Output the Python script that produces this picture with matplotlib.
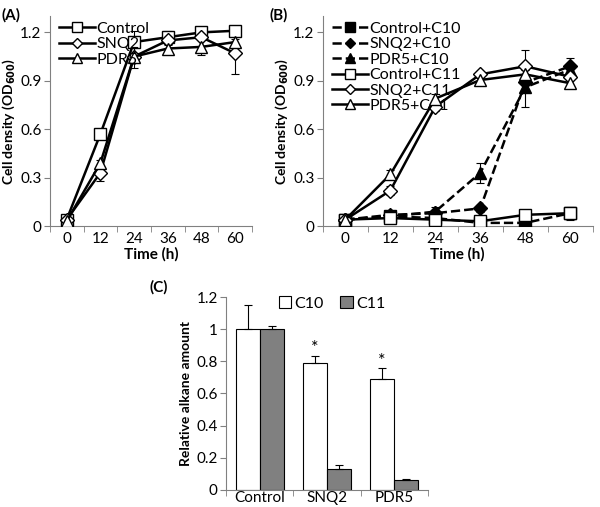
import numpy as np
import matplotlib
matplotlib.use("Agg")
from matplotlib import pyplot as plt

plt.rcParams['font.family'] = ['Lato', 'DejaVu Sans']
plt.rcParams['font.size'] = 11

# time points (h)
hours = ['0', '12', '24', '36', '48', '60']

# panel A : growth without alkane
a_names = ['Control', 'SNQ2', 'PDR5']
a_markers = ['s', 'D', '^']
a_vals = [
    [0.04, 0.57, 1.14, 1.17, 1.20, 1.21],
    [0.04, 0.33, 1.05, 1.15, 1.17, 1.07],
    [0.03, 0.39, 1.05, 1.10, 1.11, 1.14],
]
a_err = [
    [0.01, 0.01, 0.07, 0.04, 0.01, 0.0],
    [0.01, 0.05, 0.02, 0.02, 0.02, 0.13],
    [0.01, 0.02, 0.07, 0.02, 0.05, 0.02],
]

# panel B : growth with C10 / C11
b_names = ['Control+C10', 'SNQ2+C10', 'PDR5+C10', 'Control+C11', 'SNQ2+C11', 'PDR5+C11']
b_markers = ['s', 'D', '^', 's', 'D', '^']
b_vals = [
    [0.04, 0.06, 0.05, 0.02, 0.02, 0.08],
    [0.04, 0.07, 0.08, 0.11, 0.89, 0.99],
    [0.04, 0.06, 0.09, 0.33, 0.86, 0.97],
    [0.04, 0.05, 0.04, 0.03, 0.07, 0.08],
    [0.04, 0.22, 0.74, 0.94, 0.99, 0.925],
    [0.04, 0.32, 0.79, 0.905, 0.94, 0.885],
]
b_err = [
    [0.01, 0.01, 0.01, 0.01, 0.01, 0.02],
    [0.01, 0.02, 0.02, 0.02, 0.04, 0.05],
    [0.01, 0.02, 0.03, 0.06, 0.12, 0.03],
    [0.01, 0.01, 0.01, 0.01, 0.03, 0.04],
    [0.01, 0.03, 0.03, 0.01, 0.10, 0.02],
    [0.01, 0.03, 0.03, 0.01, 0.03, 0.02],
]

# panel C : relative alkane amount
strains = ['Control', 'SNQ2', 'PDR5']
c10 = [1.0, 0.79, 0.69]
c10_err = [0.15, 0.045, 0.07]
c11 = [1.0, 0.13, 0.06]
c11_err = [0.02, 0.025, 0.01]
stars = [False, True, True]


def style_axes(ax, ylim, yticks, ylabels):
    ax.spines['top'].set_visible(False)
    ax.spines['right'].set_visible(False)
    ax.spines['left'].set_color('#808080')
    ax.spines['bottom'].set_color('#808080')
    ax.set_ylim(*ylim)
    ax.set_yticks(yticks)
    ax.set_yticklabels(ylabels, fontsize=11)
    ax.tick_params(axis='y', direction='out', length=4, color='#808080', pad=2)


def growth(ax, names, markers, vals, errs, dashed):
    x = np.arange(len(hours))
    for i in range(len(names)):
        fill = 'black' if dashed[i] else 'white'
        ls = '--' if dashed[i] else '-'
        ms = 7 if markers[i] == 'D' else 9
        ax.errorbar(x, vals[i], yerr=errs[i], fmt='none', ecolor='black',
                    elinewidth=0.8, capsize=3, capthick=0.8, zorder=2)
        ax.plot(x, vals[i], color='black', ls=ls, lw=1.8,
                marker=markers[i], ms=ms, mfc=fill, mec='black', mew=1,
                label=names[i], zorder=3 + i)
    ax.set_xlim(-0.5, len(hours) - 0.5)
    ax.set_xticks(np.arange(len(hours)))
    ax.set_xticklabels(hours, fontsize=11)
    ax.set_xticks(np.arange(len(hours) + 1) - 0.5, minor=True)
    ax.tick_params(axis='x', which='major', length=0, pad=4)
    ax.tick_params(axis='x', which='minor', direction='out', length=4, color='#808080')
    style_axes(ax, (0, 1.3), [0, 0.3, 0.6, 0.9, 1.2], ['0', '0.3', '0.6', '0.9', '1.2'])
    ax.set_xlabel('Time (h)', fontweight='bold', fontsize=11, labelpad=1)
    ax.set_ylabel('Cell density (OD$_{\\mathbf{600}}$)', fontweight='bold', fontsize=10, labelpad=2)
    ax.legend(loc='upper left', bbox_to_anchor=(0.0, 1.02), frameon=False, fontsize=11.5,
              handlelength=2.2, handletextpad=0.1, borderaxespad=0.2, labelspacing=0.08,
              markerscale=0.8)


fig = plt.figure(figsize=(6, 5.07), dpi=100)

axA = fig.add_axes([0.083, 0.554, 0.337, 0.414])
growth(axA, a_names, a_markers, a_vals, a_err, [False, False, False])

axB = fig.add_axes([0.538, 0.554, 0.45, 0.414])
growth(axB, b_names, b_markers, b_vals, b_err, [True, True, True, False, False, False])

axC = fig.add_axes([0.377, 0.034, 0.336, 0.38])
xc = np.arange(len(strains))
w = 0.36
axC.bar(xc - w / 2, c10, w, color='white', edgecolor='black', lw=0.8, label='C10',
        yerr=[np.zeros(3), c10_err], error_kw=dict(elinewidth=0.8, capsize=3, capthick=0.8))
axC.bar(xc + w / 2, c11, w, color='#808080', edgecolor='black', lw=0.8, label='C11',
        yerr=[np.zeros(3), c11_err], error_kw=dict(elinewidth=0.8, capsize=3, capthick=0.8))
for i in range(len(strains)):
    if stars[i]:
        axC.text(xc[i] - w / 2, c10[i] + c10_err[i] + 0.045, '*', ha='center', va='center', fontsize=13)
axC.set_xlim(-0.5, len(strains) - 0.5)
axC.set_xticks(xc)
axC.set_xticklabels(strains, fontsize=11)
axC.set_xticks(np.arange(len(strains) + 1) - 0.5, minor=True)
axC.tick_params(axis='x', which='major', length=0, pad=1)
axC.tick_params(axis='x', which='minor', direction='out', length=4, color='#808080')
style_axes(axC, (0, 1.2), [0, 0.2, 0.4, 0.6, 0.8, 1.0, 1.2], ['0', '0.2', '0.4', '0.6', '0.8', '1', '1.2'])
axC.set_ylabel('Relative alkane amount', fontweight='bold', fontsize=10, labelpad=3)
axC.legend(loc='upper right', bbox_to_anchor=(0.86, 1.08), ncol=2, frameon=False, fontsize=11.5,
           handlelength=0.8, handleheight=0.8, handletextpad=0.2, columnspacing=1.0)

fig.text(0.002, 0.985, '(A)', fontweight='bold', fontsize=11, va='top')
fig.text(0.45, 0.985, '(B)', fontweight='bold', fontsize=11, va='top')
fig.text(0.25, 0.447, '(C)', fontweight='bold', fontsize=11, va='top')

fig.savefig('out.png', dpi=100)
